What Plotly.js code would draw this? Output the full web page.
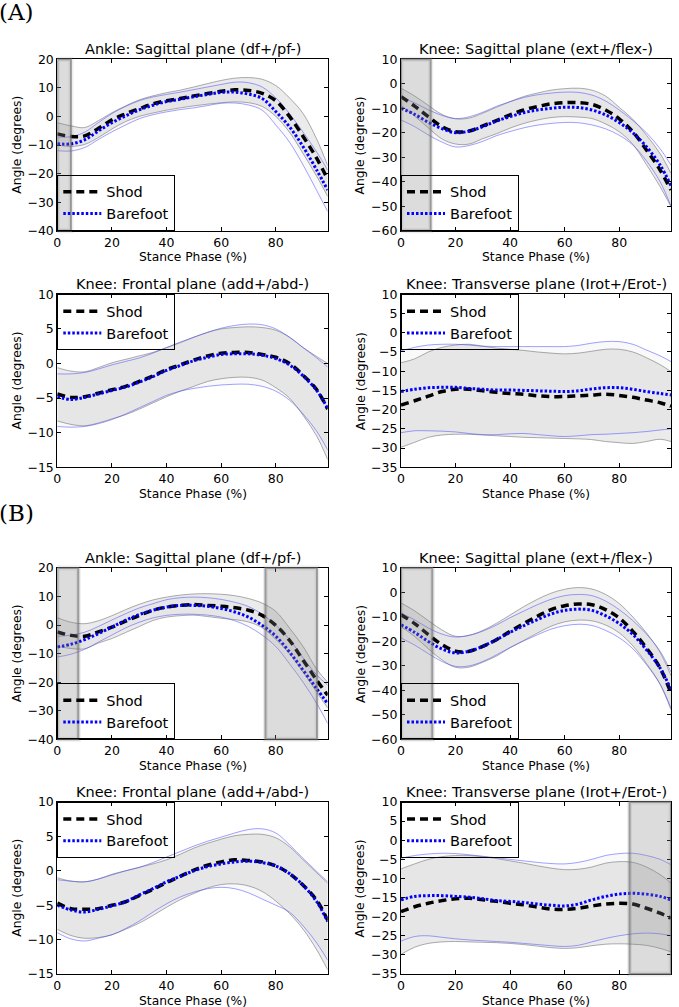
<!DOCTYPE html>
<html><head><meta charset="utf-8">
<script src="https://cdn.plot.ly/plotly-3.0.1.min.js"></script>
<style>html,body{margin:0;padding:0;background:#fff}#chart{width:679px;height:1007px}</style>
</head><body><div id="chart"></div>
<script>
// ---------- DATA ----------
const stancePhase = [0,5,10,15,20,25,30,35,40,45,50,55,60,65,70,75,80,85,90,95,99];
const xTickVals = [0,20,40,60,80];
const seriesNames = ["Shod","Barefoot"];
const panelLabels = ["(A)","(B)"];
const panelTitles = [
  "Ankle: Sagittal plane (df+/pf-)","Knee: Sagittal plane (ext+/flex-)",
  "Knee: Frontal plane (add+/abd-)","Knee: Transverse plane (Irot+/Erot-)",
  "Ankle: Sagittal plane (df+/pf-)","Knee: Sagittal plane (ext+/flex-)",
  "Knee: Frontal plane (add+/abd-)","Knee: Transverse plane (Irot+/Erot-)"
];
const xAxisTitle = "Stance Phase (%)";
const yAxisTitle = "Angle (degrees)";

// (A) Ankle sagittal
const A_ankSag_shodMean = [-6.1,-7.0,-6.8,-4.2,-1.2,0.9,2.7,4.4,5.5,6.3,7.2,8.0,8.8,9.3,9.1,8.1,5.5,0.0,-7.0,-14.7,-22.0];
const A_ankSag_shodHi   = [-2.2,-3.3,-3.9,-1.5,1.3,3.7,5.8,7.2,8.3,9.2,10.3,11.5,12.6,13.4,13.6,13.0,10.8,6.5,1.0,-8.0,-17.2];
const A_ankSag_shodLo   = [-10.0,-10.5,-9.8,-7.4,-4.4,-1.8,0.0,1.2,2.2,3.0,3.7,4.3,4.8,5.1,4.8,3.5,0.0,-5.5,-13.0,-21.0,-28.0];
const A_ankSag_bareMean = [-9.6,-9.6,-8.2,-5.1,-2.2,0.2,2.3,3.9,5.2,6.0,6.9,7.7,8.4,8.5,7.8,6.3,1.7,-3.6,-10.6,-18.8,-25.8];
const A_ankSag_bareHi   = [-7.2,-7.1,-5.5,-2.2,1.0,3.5,5.5,6.8,7.7,8.5,9.4,10.3,11.2,12.0,11.8,10.3,6.5,1.0,-5.5,-12.5,-18.8];
const A_ankSag_bareLo   = [-12.0,-12.1,-10.9,-8.1,-5.4,-3.0,-0.8,0.6,1.6,2.4,3.0,3.8,4.6,4.7,4.0,2.2,-3.0,-9.0,-17.0,-26.0,-33.3];
const A_ankSag_sig = [[0,5]];

// (A) Knee sagittal
const A_kneeSag_shodMean = [-5.3,-9.1,-13.4,-17.5,-19.6,-19.3,-17.2,-15.0,-12.7,-10.7,-9.3,-8.2,-7.7,-7.7,-8.4,-10.7,-14.3,-19.6,-27.0,-35.2,-43.4];
const A_kneeSag_shodHi   = [-1.8,-5.0,-8.8,-12.5,-14.3,-14.0,-12.0,-9.6,-7.3,-5.2,-3.8,-2.6,-2.0,-1.8,-2.6,-5.0,-9.6,-14.5,-21.0,-28.5,-36.6];
const A_kneeSag_shodLo   = [-8.8,-13.2,-18.0,-22.5,-24.6,-24.6,-22.4,-20.4,-18.1,-16.2,-14.8,-13.8,-13.4,-13.6,-14.2,-16.4,-19.6,-24.7,-33.0,-42.0,-50.2];
const A_kneeSag_bareMean = [-10.0,-12.5,-15.7,-18.3,-20.0,-19.3,-17.5,-15.2,-13.4,-11.8,-10.7,-10.0,-9.6,-9.7,-10.7,-12.7,-15.8,-20.0,-25.7,-33.2,-41.6];
const A_kneeSag_bareHi   = [-5.5,-7.8,-10.6,-12.9,-14.2,-13.5,-11.6,-9.2,-7.3,-5.6,-4.5,-3.8,-3.4,-3.5,-4.6,-7.0,-10.7,-15.0,-20.0,-26.5,-33.2];
const A_kneeSag_bareLo   = [-14.8,-17.5,-20.9,-23.8,-25.8,-25.2,-23.5,-21.2,-19.5,-18.0,-16.9,-16.2,-15.8,-15.9,-16.8,-18.4,-21.0,-25.0,-31.5,-40.0,-50.0];
const A_kneeSag_sig = [[0,10.9]];

// (A) Knee frontal
const A_kneeFro_shodMean = [-4.4,-4.9,-4.8,-4.3,-3.8,-3.3,-2.6,-1.8,-0.9,-0.2,0.5,1.1,1.5,1.6,1.6,1.3,0.9,0.0,-1.7,-3.8,-6.6];
const A_kneeFro_shodHi   = [-0.6,-1.1,-1.2,-0.6,0.1,0.6,1.1,1.6,2.3,3.0,3.8,4.5,5.0,5.2,5.3,5.2,4.8,3.8,2.3,1.0,0.0];
const A_kneeFro_shodLo   = [-8.3,-8.8,-9.0,-8.6,-8.0,-7.4,-6.6,-5.7,-4.8,-4.0,-3.3,-2.6,-2.2,-2.0,-2.0,-2.4,-3.5,-5.0,-7.5,-10.5,-13.9];
const A_kneeFro_bareMean = [-4.8,-5.2,-4.9,-4.4,-3.9,-3.4,-2.7,-1.9,-1.0,-0.3,0.4,0.9,1.3,1.4,1.4,1.2,0.7,-0.2,-1.8,-3.9,-6.5];
const A_kneeFro_bareHi   = [-1.5,-1.5,-1.3,-0.8,-0.2,0.3,0.8,1.5,2.3,3.1,3.8,4.5,5.1,5.5,5.7,5.6,5.0,3.8,2.3,0.8,-0.5];
const A_kneeFro_bareLo   = [-9.1,-9.2,-9.1,-8.7,-8.1,-7.3,-6.4,-5.5,-4.6,-4.0,-3.6,-3.3,-3.1,-3.0,-3.0,-3.3,-4.0,-5.3,-7.3,-9.8,-12.5];
const A_kneeFro_sig = [];

// (A) Knee transverse
const A_kneeTra_shodMean = [-18.8,-17.7,-16.5,-15.3,-14.7,-14.7,-15.1,-15.5,-15.8,-16.0,-16.4,-16.6,-16.6,-16.4,-16.2,-16.0,-16.3,-16.8,-17.5,-18.2,-19.1];
const A_kneeTra_shodHi   = [-7.8,-6.8,-5.0,-3.8,-3.2,-3.0,-3.5,-4.0,-4.3,-4.6,-5.0,-5.3,-5.5,-5.3,-4.8,-4.3,-4.3,-5.0,-6.5,-8.3,-10.1];
const A_kneeTra_shodLo   = [-29.8,-28.5,-27.2,-26.6,-26.4,-26.4,-26.6,-26.8,-27.0,-27.2,-27.3,-27.4,-27.5,-27.6,-27.8,-28.3,-28.6,-28.8,-28.3,-27.7,-28.3];
const A_kneeTra_bareMean = [-15.3,-14.7,-14.3,-14.2,-14.2,-14.5,-14.7,-14.9,-14.9,-15.0,-15.1,-15.2,-15.3,-15.1,-14.6,-14.3,-14.3,-14.7,-15.3,-15.8,-16.2];
const A_kneeTra_bareHi   = [-4.7,-3.8,-3.2,-3.0,-3.0,-3.2,-3.5,-3.6,-3.6,-3.6,-3.6,-3.6,-3.6,-3.3,-2.7,-2.3,-2.3,-3.0,-4.5,-6.0,-7.5];
const A_kneeTra_bareLo   = [-26.0,-25.5,-25.5,-25.6,-25.8,-26.2,-26.5,-26.5,-26.3,-26.2,-26.5,-26.8,-27.0,-26.8,-26.5,-26.4,-26.2,-26.0,-25.7,-25.3,-25.0];
const A_kneeTra_sig = [];

// (B) Ankle sagittal
const B_ankSag_shodMean = [-2.4,-3.6,-3.9,-2.4,-0.7,1.4,3.4,5.2,6.3,6.9,7.2,6.9,6.6,6.1,5.2,3.4,-0.1,-5.3,-12.3,-19.3,-24.6];
const B_ankSag_shodHi   = [2.6,1.0,0.5,1.5,3.3,5.4,7.3,8.8,9.8,10.5,10.9,11.0,10.8,10.3,9.3,7.7,4.8,-1.0,-7.5,-15.5,-20.0];
const B_ankSag_shodLo   = [-7.4,-8.2,-8.3,-6.3,-4.7,-2.6,-0.5,1.6,2.8,3.3,3.5,3.0,2.4,1.9,1.1,-0.9,-5.0,-10.0,-16.5,-23.5,-29.0];
const B_ankSag_bareMean = [-7.7,-6.7,-5.1,-3.0,-0.7,1.7,3.7,5.2,6.3,6.9,6.9,6.6,5.8,4.6,2.8,-0.1,-3.9,-9.4,-15.8,-22.3,-27.5];
const B_ankSag_bareHi   = [-3.9,-3.5,-2.5,-0.5,1.8,4.0,6.0,7.5,8.9,9.6,9.8,9.6,9.0,8.0,6.5,3.8,0.0,-5.0,-11.5,-17.5,-21.0];
const B_ankSag_bareLo   = [-11.2,-10.2,-8.5,-6.0,-3.5,-1.0,1.0,2.5,3.4,3.8,3.8,3.5,2.8,1.5,-0.5,-3.5,-7.5,-13.5,-20.0,-27.5,-34.5];
const B_ankSag_sig = [[0,7.7],[76.2,95.1]];

// (B) Knee sagittal
const B_kneeSag_shodMean = [-9.1,-12.7,-17.2,-21.3,-24.0,-24.0,-22.0,-19.3,-15.9,-12.7,-9.7,-7.0,-5.4,-4.7,-5.0,-7.0,-10.4,-15.9,-22.7,-30.9,-41.1];
const B_kneeSag_shodHi   = [-4.3,-7.5,-11.5,-15.3,-17.9,-17.5,-15.5,-12.6,-9.2,-5.8,-2.8,-0.3,1.3,2.0,1.4,-0.8,-4.5,-10.0,-16.5,-24.5,-34.0];
const B_kneeSag_shodLo   = [-14.0,-18.0,-23.0,-27.5,-30.6,-30.5,-28.5,-26.0,-22.6,-19.6,-16.6,-13.8,-12.0,-11.3,-11.6,-13.3,-16.5,-21.8,-29.0,-37.5,-48.0];
const B_kneeSag_bareMean = [-13.2,-16.3,-20.0,-23.1,-24.7,-24.0,-22.0,-19.3,-16.3,-13.6,-11.1,-8.8,-7.3,-6.8,-7.3,-9.5,-12.7,-17.2,-23.4,-30.9,-39.7];
const B_kneeSag_bareHi   = [-8.4,-11.2,-14.5,-17.0,-18.2,-17.5,-15.8,-13.3,-10.3,-7.6,-5.0,-2.8,-1.3,-0.8,-1.3,-3.5,-7.0,-11.5,-17.0,-24.0,-32.5];
const B_kneeSag_bareLo   = [-18.6,-21.5,-25.0,-28.2,-30.2,-30.0,-28.2,-25.5,-22.5,-19.8,-17.3,-15.0,-13.6,-13.0,-13.5,-15.5,-18.5,-23.0,-29.5,-37.5,-47.2];
const B_kneeSag_sig = [[0,11.5]];

// (B) Knee frontal
const B_kneeFro_shodMean = [-4.7,-5.5,-5.6,-5.5,-5.0,-4.5,-3.6,-2.7,-1.7,-0.8,0.1,0.8,1.3,1.6,1.5,1.3,0.7,-0.4,-2.1,-4.3,-7.2];
const B_kneeFro_shodHi   = [-1.0,-1.5,-1.6,-1.2,-0.5,0.0,0.5,1.0,1.6,2.4,3.3,4.0,4.6,5.1,5.3,5.3,4.8,3.5,1.6,-0.3,-1.8];
const B_kneeFro_shodLo   = [-8.5,-9.4,-9.8,-9.7,-9.3,-8.5,-7.6,-6.5,-5.3,-4.2,-3.3,-2.5,-2.0,-1.9,-2.2,-3.0,-4.4,-6.2,-8.5,-11.5,-14.4];
const B_kneeFro_bareMean = [-5.0,-5.7,-6.0,-5.6,-5.1,-4.5,-3.5,-2.6,-1.6,-0.8,0.0,0.6,1.0,1.3,1.4,1.2,0.7,-0.4,-2.1,-4.5,-7.4];
const B_kneeFro_bareHi   = [-1.3,-1.5,-1.6,-1.2,-0.6,0.0,0.5,1.2,2.0,2.8,3.6,4.3,4.9,5.5,6.0,6.1,5.5,3.8,1.8,-0.1,-1.6];
const B_kneeFro_bareLo   = [-9.0,-9.9,-10.2,-9.8,-9.3,-8.4,-7.3,-6.0,-4.8,-3.8,-3.1,-2.6,-2.4,-2.6,-3.2,-4.1,-5.0,-6.0,-8.0,-10.5,-13.0];
const B_kneeFro_sig = [];

// (B) Knee transverse
const B_kneeTra_shodMean = [-18.7,-17.4,-16.5,-15.8,-15.3,-15.2,-15.6,-16.0,-16.5,-16.9,-17.5,-18.0,-18.1,-17.8,-17.2,-16.7,-16.5,-16.7,-17.8,-19.1,-20.4];
const B_kneeTra_shodHi   = [-7.5,-6.2,-5.0,-4.3,-4.0,-4.0,-4.3,-4.8,-5.4,-6.0,-6.7,-7.3,-7.7,-7.6,-7.0,-6.0,-5.6,-5.8,-7.0,-9.0,-11.2];
const B_kneeTra_shodLo   = [-29.9,-28.0,-27.0,-26.6,-26.5,-26.6,-26.7,-26.8,-27.0,-27.3,-27.7,-28.1,-28.3,-28.1,-27.6,-27.2,-27.1,-27.2,-27.5,-28.3,-29.2];
const B_kneeTra_bareMean = [-15.6,-14.7,-14.5,-14.5,-14.7,-14.9,-15.3,-15.8,-16.0,-16.3,-16.7,-17.0,-17.2,-16.7,-15.6,-14.7,-14.1,-13.9,-14.1,-14.7,-15.6];
const B_kneeTra_bareHi   = [-4.7,-4.0,-3.6,-3.4,-3.5,-3.8,-4.2,-4.6,-5.0,-5.4,-5.8,-6.1,-6.2,-5.8,-5.0,-4.0,-3.5,-3.4,-4.0,-5.0,-6.4];
const B_kneeTra_bareLo   = [-26.4,-25.2,-25.0,-25.4,-25.8,-26.1,-26.3,-26.5,-26.7,-27.0,-27.3,-27.6,-27.8,-27.5,-26.6,-25.7,-25.0,-24.5,-24.3,-24.5,-25.0];
const B_kneeTra_sig = [[83.8,99]];

// ---------- PANELS ----------
const panels = [
  {shod:[A_ankSag_shodMean,A_ankSag_shodHi,A_ankSag_shodLo], bare:[A_ankSag_bareMean,A_ankSag_bareHi,A_ankSag_bareLo], sig:A_ankSag_sig, yr:[-40,20], dt:10, leg:'bottom'},
  {shod:[A_kneeSag_shodMean,A_kneeSag_shodHi,A_kneeSag_shodLo], bare:[A_kneeSag_bareMean,A_kneeSag_bareHi,A_kneeSag_bareLo], sig:A_kneeSag_sig, yr:[-60,10], dt:10, leg:'bottom'},
  {shod:[A_kneeFro_shodMean,A_kneeFro_shodHi,A_kneeFro_shodLo], bare:[A_kneeFro_bareMean,A_kneeFro_bareHi,A_kneeFro_bareLo], sig:A_kneeFro_sig, yr:[-15,10], dt:5, leg:'top'},
  {shod:[A_kneeTra_shodMean,A_kneeTra_shodHi,A_kneeTra_shodLo], bare:[A_kneeTra_bareMean,A_kneeTra_bareHi,A_kneeTra_bareLo], sig:A_kneeTra_sig, yr:[-35,10], dt:5, leg:'top'},
  {shod:[B_ankSag_shodMean,B_ankSag_shodHi,B_ankSag_shodLo], bare:[B_ankSag_bareMean,B_ankSag_bareHi,B_ankSag_bareLo], sig:B_ankSag_sig, yr:[-40,20], dt:10, leg:'bottom'},
  {shod:[B_kneeSag_shodMean,B_kneeSag_shodHi,B_kneeSag_shodLo], bare:[B_kneeSag_bareMean,B_kneeSag_bareHi,B_kneeSag_bareLo], sig:B_kneeSag_sig, yr:[-60,10], dt:10, leg:'bottom'},
  {shod:[B_kneeFro_shodMean,B_kneeFro_shodHi,B_kneeFro_shodLo], bare:[B_kneeFro_bareMean,B_kneeFro_bareHi,B_kneeFro_bareLo], sig:B_kneeFro_sig, yr:[-15,10], dt:5, leg:'top'},
  {shod:[B_kneeTra_shodMean,B_kneeTra_shodHi,B_kneeTra_shodLo], bare:[B_kneeTra_bareMean,B_kneeTra_bareHi,B_kneeTra_bareLo], sig:B_kneeTra_sig, yr:[-35,10], dt:5, leg:'top'}
];

// ---------- LAYOUT ----------
const W = 679, H = 1007;
const colPx = [[57.3,327.7],[401,671]];
const rowPx = [[59.3,230.7],[294.3,467.3],[568,739.3],[802,974]];
const FONT = "DejaVu Sans, Verdana, sans-serif";

const data = [];
const layout = {
  width: W, height: H, margin:{l:0,r:0,t:0,b:0},
  paper_bgcolor:'#fff', plot_bgcolor:'#fff',
  font:{family:FONT, size:12, color:'#000'},
  shapes:[], annotations:[], showlegend:true
};

panels.forEach((p, i) => {
  const row = Math.floor(i/2), col = i%2;
  const n = i+1;
  const xa = n===1 ? 'x' : 'x'+n, ya = n===1 ? 'y' : 'y'+n;
  const xk = n===1 ? 'xaxis' : 'xaxis'+n, yk = n===1 ? 'yaxis' : 'yaxis'+n;
  const lg = n===1 ? 'legend' : 'legend'+n;
  const xd = [colPx[col][0]/W, colPx[col][1]/W];
  const yd = [1-rowPx[row][1]/H, 1-rowPx[row][0]/H];

  const common = {
    showline:true, linecolor:'#000', linewidth:1, mirror:'allticks',
    ticks:'inside', ticklen:4, tickcolor:'#000', tickwidth:1,
    showgrid:false, zeroline:false, fixedrange:true,
    tickfont:{family:FONT, size:12.5, color:'#000'}
  };
  layout[xk] = Object.assign({}, common, {domain:xd, anchor:ya, range:[0,99], tickvals:xTickVals});
  layout[yk] = Object.assign({}, common, {domain:yd, anchor:xa, range:p.yr, dtick:p.dt, tick0:0});

  const base = {x:stancePhase, xaxis:xa, yaxis:ya, mode:'lines', hoverinfo:'skip', showlegend:false, legend:lg};
  const sp = {shape:'spline', smoothing:1};
  data.push(Object.assign({}, base, {y:p.shod[1], line:Object.assign({color:'rgba(128,128,128,0.65)', width:1}, sp)}));
  data.push(Object.assign({}, base, {y:p.shod[2], fill:'tonexty', fillcolor:'rgba(128,128,128,0.16)', line:Object.assign({color:'rgba(128,128,128,0.65)', width:1}, sp)}));
  data.push(Object.assign({}, base, {y:p.bare[1], line:Object.assign({color:'rgba(70,70,255,0.5)', width:1}, sp)}));
  data.push(Object.assign({}, base, {y:p.bare[2], fill:'tonexty', fillcolor:'rgba(128,128,128,0.05)', line:Object.assign({color:'rgba(70,70,255,0.5)', width:1}, sp)}));
  data.push(Object.assign({}, base, {y:p.shod[0], name:seriesNames[0], showlegend:true, line:Object.assign({color:'#000', width:3.5, dash:'8px,5px'}, sp)}));
  data.push(Object.assign({}, base, {y:p.bare[0], name:seriesNames[1], showlegend:true, line:Object.assign({color:'#0000ff', width:3, dash:'2.5px,2px'}, sp)}));

  layout[lg] = {
    x:xd[0], xanchor:'left',
    y: p.leg==='bottom' ? yd[0] : yd[1], yanchor: p.leg==='bottom' ? 'bottom' : 'top',
    bgcolor:'rgba(0,0,0,0)', bordercolor:'#000', borderwidth:1, traceorder:'normal',
    font:{family:FONT, size:14.5, color:'#000'}, tracegroupgap:0, itemwidth:38,
    itemclick:false, itemdoubleclick:false
  };

  p.sig.forEach(r => {
    layout.shapes.push({type:'rect', xref:xa, yref:ya+' domain', x0:r[0], x1:r[1], y0:0, y1:1,
      fillcolor:'rgba(0,0,0,0)', line:{color:'rgba(0,0,0,0.07)', width:5}, layer:'above'});
    layout.shapes.push({type:'rect', xref:xa, yref:ya+' domain', x0:r[0], x1:r[1], y0:0, y1:1,
      fillcolor:'rgba(128,128,128,0.28)', line:{color:'rgba(110,110,110,0.6)', width:2}, layer:'above'});
  });

  layout.annotations.push({text:panelTitles[i], xref:'paper', yref:'paper', x:(xd[0]+xd[1])/2, y:yd[1],
    xanchor:'center', yanchor:'bottom', yshift:0, showarrow:false, font:{family:FONT, size:14.5, color:'#000'}});
  layout.annotations.push({text:xAxisTitle, xref:'paper', yref:'paper', x:(xd[0]+xd[1])/2, y:yd[0],
    xanchor:'center', yanchor:'middle', yshift:-26.5, showarrow:false, font:{family:FONT, size:12.3, color:'#000'}});
  layout.annotations.push({text:yAxisTitle, xref:'paper', yref:'paper', x:xd[0], y:(yd[0]+yd[1])/2,
    xanchor:'center', yanchor:'middle', xshift:-40.6, textangle:-90, showarrow:false, font:{family:FONT, size:12.3, color:'#000'}});
});

layout.annotations.push({text:panelLabels[0], xref:'paper', yref:'paper', x:0, y:1-12/H, xanchor:'left', yanchor:'middle',
  xshift:-3, showarrow:false, font:{family:"DejaVu Serif, serif", size:23, color:'#000'}});
layout.annotations.push({text:panelLabels[1], xref:'paper', yref:'paper', x:0, y:1-513/H, xanchor:'left', yanchor:'middle',
  xshift:-3, showarrow:false, font:{family:"DejaVu Serif, serif", size:23, color:'#000'}});

Plotly.newPlot('chart', data, layout, {staticPlot:true, displayModeBar:false});
</script></body></html>
